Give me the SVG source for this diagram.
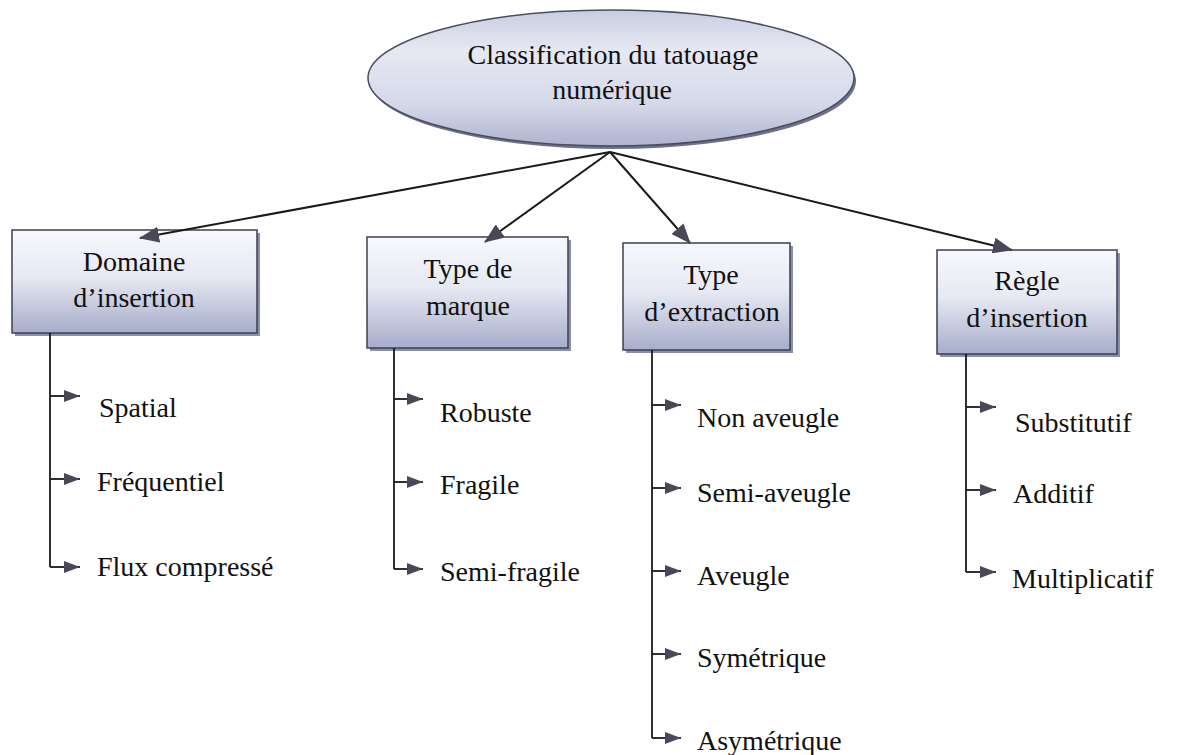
<svg xmlns="http://www.w3.org/2000/svg" width="1179" height="755" viewBox="0 0 1179 755">
  <defs>
    <linearGradient id="boxFill" x1="0" y1="0" x2="0" y2="1">
      <stop offset="0" stop-color="#f7f8fc"/>
      <stop offset="0.45" stop-color="#e7e9f3"/>
      <stop offset="1" stop-color="#a7adcb"/>
    </linearGradient>
    <linearGradient id="ovalFill" x1="0" y1="0" x2="0" y2="1">
      <stop offset="0" stop-color="#c9cde2"/>
      <stop offset="0.3" stop-color="#e6e8f2"/>
      <stop offset="0.7" stop-color="#d5d8e9"/>
      <stop offset="1" stop-color="#aeb3cf"/>
    </linearGradient>
    <marker id="headMain" viewBox="0 0 20 16" refX="19" refY="8" markerWidth="20" markerHeight="16" markerUnits="userSpaceOnUse" orient="auto">
      <path d="M0,0 L20,8 L0,16 Z" fill="#4a4856"/>
    </marker>
    <marker id="headLeaf" viewBox="0 0 16 12" refX="16" refY="6" markerWidth="16" markerHeight="12" markerUnits="userSpaceOnUse" orient="auto">
      <path d="M0,0 L16,6 L0,12 Z" fill="#4a4856"/>
    </marker>
  </defs>
  <style>
    .label { font-family: "Liberation Serif", "Times New Roman", serif; font-size: 28px; fill: #111; }
    .mid { text-anchor: middle; }
    .box { fill: url(#boxFill); stroke: #3c3f52; stroke-width: 1.5; }
    .shadow { fill: #8c90a6; }
    .main { stroke: #1a1a1a; stroke-width: 2; fill: none; marker-end: url(#headMain); }
    .trunk { stroke: #1a1a1a; stroke-width: 1.8; fill: none; }
    .leaf { stroke: #1a1a1a; stroke-width: 1.8; fill: none; marker-end: url(#headLeaf); }
  </style>

  <rect width="1179" height="755" fill="#ffffff"/>

  <!-- root oval -->
  <g id="root">
    <ellipse cx="613" cy="81" rx="243" ry="68" fill="#6f7288"/>
    <ellipse cx="611" cy="78" rx="243" ry="68" fill="url(#ovalFill)" stroke="#4a4d60" stroke-width="1.5"/>
    <text class="label mid" x="613" y="64">Classification du tatouage</text>
    <text class="label mid" x="612" y="99">numérique</text>
  </g>

  <!-- category boxes -->
  <g id="domaine">
    <rect class="shadow" x="15" y="233" width="245" height="103"/>
    <rect class="box" x="12" y="230" width="245" height="103"/>
    <text class="label mid" x="134" y="271">Domaine</text>
    <text class="label mid" x="134" y="307">d’insertion</text>
  </g>
  <g id="marque">
    <rect class="shadow" x="370" y="240" width="201" height="111"/>
    <rect class="box" x="367" y="237" width="201" height="111"/>
    <text class="label mid" x="468" y="278">Type de</text>
    <text class="label mid" x="468" y="315">marque</text>
  </g>
  <g id="extraction">
    <rect class="shadow" x="626" y="246" width="167" height="107"/>
    <rect class="box" x="623" y="243" width="167" height="107"/>
    <text class="label mid" x="711" y="284">Type</text>
    <text class="label mid" x="712" y="321">d’extraction</text>
  </g>
  <g id="regle">
    <rect class="shadow" x="940" y="253" width="180" height="104"/>
    <rect class="box" x="937" y="250" width="180" height="104"/>
    <text class="label mid" x="1027" y="290">Règle</text>
    <text class="label mid" x="1027" y="327">d’insertion</text>
  </g>

  <!-- leaf labels -->
  <g id="domaine-items">
    <text class="label" x="99" y="417">Spatial</text>
    <text class="label" x="97" y="491">Fréquentiel</text>
    <text class="label" x="97" y="576">Flux compressé</text>
  </g>
  <g id="marque-items">
    <text class="label" x="440" y="422">Robuste</text>
    <text class="label" x="440" y="494">Fragile</text>
    <text class="label" x="440" y="581">Semi-fragile</text>
  </g>
  <g id="extraction-items">
    <text class="label" x="697" y="427">Non aveugle</text>
    <text class="label" x="697" y="502">Semi-aveugle</text>
    <text class="label" x="697" y="585">Aveugle</text>
    <text class="label" x="697" y="667">Symétrique</text>
    <text class="label" x="697" y="750">Asymétrique</text>
  </g>
  <g id="regle-items">
    <text class="label" x="1015" y="432">Substitutif</text>
    <text class="label" x="1013" y="503">Additif</text>
    <text class="label" x="1012" y="588">Multiplicatif</text>
  </g>

  <!-- connectors -->
  <g id="connectors">
    <line class="main" x1="610" y1="152" x2="140" y2="238"/>
    <line class="main" x1="610" y1="152" x2="485" y2="242"/>
    <line class="main" x1="610" y1="152" x2="690" y2="243"/>
    <line class="main" x1="610" y1="152" x2="1012" y2="250"/>

    <path class="trunk" d="M50,333 V567"/>
    <path class="leaf" d="M50,396 H80"/>
    <path class="leaf" d="M50,479 H80"/>
    <path class="leaf" d="M50,567 H80"/>

    <path class="trunk" d="M394,348 V569"/>
    <path class="leaf" d="M394,399 H423"/>
    <path class="leaf" d="M394,482 H423"/>
    <path class="leaf" d="M394,569 H423"/>

    <path class="trunk" d="M652,350 V738"/>
    <path class="leaf" d="M652,405 H681"/>
    <path class="leaf" d="M652,488 H681"/>
    <path class="leaf" d="M652,571 H681"/>
    <path class="leaf" d="M652,654 H681"/>
    <path class="leaf" d="M652,738 H681"/>

    <path class="trunk" d="M966,354 V572"/>
    <path class="leaf" d="M966,407 H996"/>
    <path class="leaf" d="M966,490 H996"/>
    <path class="leaf" d="M966,572 H996"/>
  </g>
</svg>
